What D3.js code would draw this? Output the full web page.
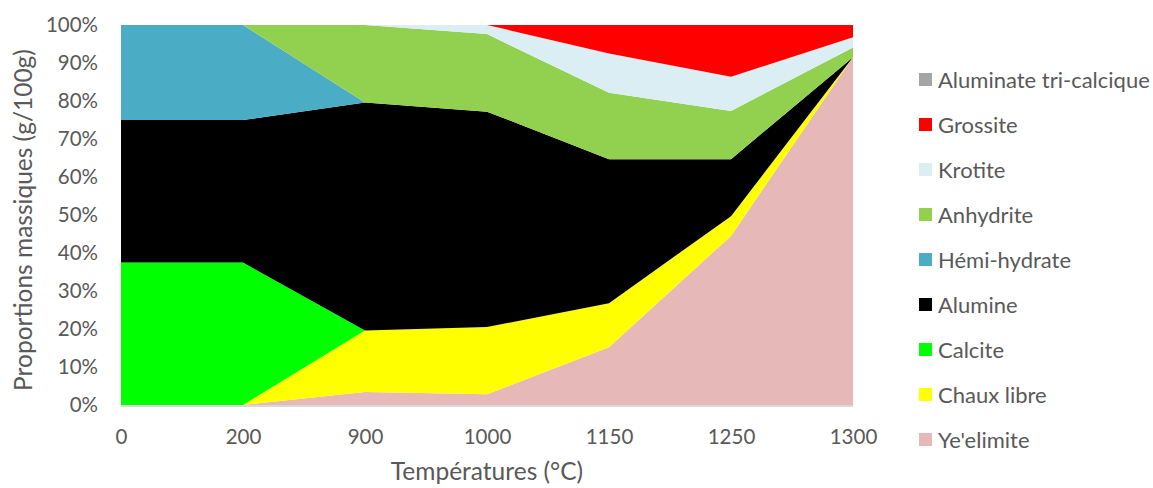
<!DOCTYPE html>
<html><head><meta charset="utf-8">
<script src="https://cdn.jsdelivr.net/npm/d3@7/dist/d3.min.js"></script>
<style>body{margin:0;background:#fff}svg{display:block}text{font-family:Lato,"Open Sans",sans-serif;fill:#595959}</style>
</head><body><svg id="c" width="1153" height="488"></svg>
<script>
const categories = ["0","200","900","1000","1150","1250","1300"];
const seriesNames = ["Ye'elimite","Chaux libre","Calcite","Alumine","Hémi-hydrate","Anhydrite","Krotite","Grossite","Aluminate tri-calcique"];
const yeelimite   = [0, 0, 3.4, 2.8, 15.2, 44.5, 91.5];
const chauxLibre  = [0, 0, 16.2, 17.7, 11.6, 5.2, 0];
const calcite     = [37.5, 37.5, 0, 0, 0, 0, 0];
const alumine     = [37.5, 37.5, 60, 56.7, 37.9, 15, 0];
const hemiHydrate = [25, 25, 0, 0, 0, 0, 0];
const anhydrite   = [0, 0, 20.4, 20.4, 17.5, 12.7, 2.6];
const krotite     = [0, 0, 0, 2.4, 10.3, 9, 2.7];
const grossite    = [0, 0, 0, 0, 7.5, 13.6, 3.2];
const aluminateTC = [0, 0, 0, 0, 0, 0, 0];
const yTicks = [0,10,20,30,40,50,60,70,80,90,100];
const colors = ["#e6b8b7","#ffff00","#00ff00","#000000","#4bacc6","#92d050","#daeef3","#ff0000","#a5a5a5"];

const valuesBySeries = [yeelimite,chauxLibre,calcite,alumine,hemiHydrate,anhydrite,krotite,grossite,aluminateTC];
const table = categories.map((c,i)=>{const o={cat:c};seriesNames.forEach((s,j)=>o[s]=valuesBySeries[j][i]);return o;});

const svg = d3.select("#c");
const L=121,R=853,T=25,B=405;
const x = d3.scalePoint().domain(categories).range([L,R]);
const y = d3.scaleLinear().domain([0,100]).range([B,T]);

const stack = d3.stack().keys(seriesNames);
const layers = stack(table);
const area = d3.area().x(d=>x(d.data.cat)).y0(d=>y(d[0])).y1(d=>y(d[1]));
svg.append("g").selectAll("path").data(layers).join("path")
  .attr("d",area).attr("fill",(d,i)=>colors[i]);

// bottom axis line
svg.append("line").attr("x1",L).attr("x2",R).attr("y1",B+1).attr("y2",B+1)
  .attr("stroke","#d9d9d9").attr("stroke-width",2);

// y axis
const yAxis = d3.axisLeft(y).tickValues(yTicks).tickFormat(d=>d+"%").tickSize(0).tickPadding(0);
const gy = svg.append("g").attr("transform",`translate(98,0)`).call(yAxis);
gy.select(".domain").remove();
gy.selectAll("text").attr("font-size",20.5).style("font-family","Lato,sans-serif").attr("fill","#595959");

// x axis
const xAxis = d3.axisBottom(x).tickSize(0).tickPadding(0);
const gx = svg.append("g").attr("transform",`translate(0,429)`).call(xAxis);
gx.select(".domain").remove();
gx.selectAll("text").attr("font-size",20.5).attr("dy","0.71em").style("font-family","Lato,sans-serif").attr("fill","#595959");

// axis titles
svg.append("text").attr("x",487).attr("y",480).attr("text-anchor","middle")
  .attr("font-size",24.5).text("Températures (°C)");
svg.append("text").attr("transform","translate(32,220) rotate(-90)").attr("text-anchor","middle")
  .attr("font-size",24.5).text("Proportions massiques (g/100g)");

// legend (top to bottom reversed order)
const legendItems = seriesNames.map((s,i)=>({name:s,color:colors[i]})).reverse();
const lg = svg.append("g");
legendItems.forEach((d,i)=>{
  const cy = 80 + i*45;
  lg.append("rect").attr("x",919).attr("y",cy-7).attr("width",13).attr("height",13).attr("fill",d.color);
  lg.append("text").attr("x",938).attr("y",cy).attr("dy","0.35em").attr("font-size",22).text(d.name);
});
</script></body></html>
